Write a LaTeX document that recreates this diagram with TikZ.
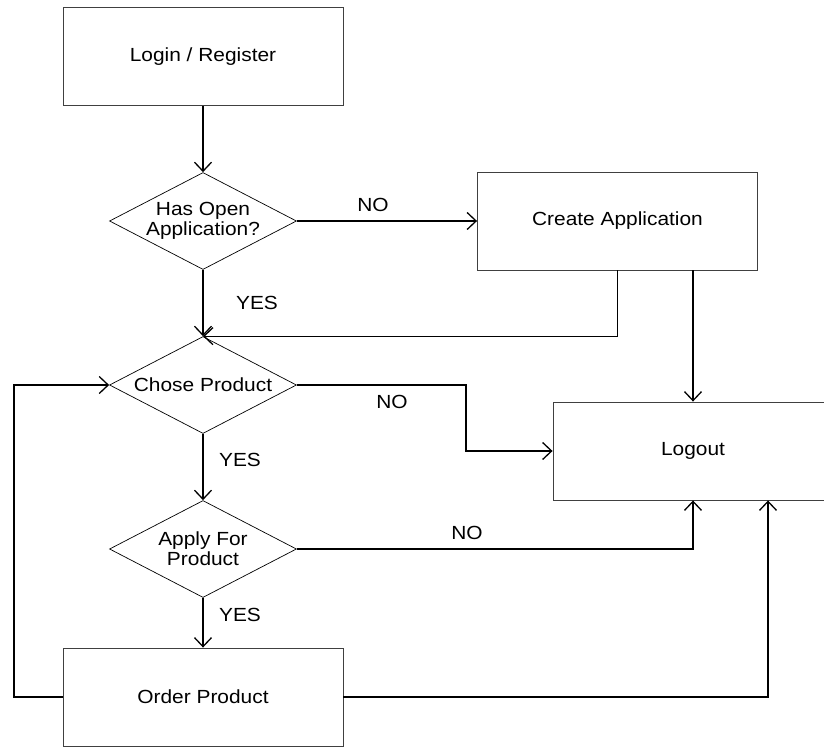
\documentclass[tikz,border=0pt]{standalone}
\usepackage{fontspec}
\setmainfont{Liberation Sans}
\usetikzlibrary{shapes.geometric,arrows.meta}
\newcommand\sx[1]{\scalebox{1.1}[1]{#1}}
\begin{document}
\begin{tikzpicture}[x=1pt,y=-1pt,
  every node/.style={font=\fontsize{19}{20}\selectfont},
  boxnode/.style={draw=black!75,line width=0.9pt,rectangle,minimum width=280pt,minimum height=98pt,inner sep=0pt},
  decision/.style={draw=black,line width=0.7pt,diamond,minimum width=187pt,minimum height=97pt,inner sep=0pt},
  arr/.style={line width=1.3pt,-{Straight Barb[length=9pt,width=17pt,line width=1.3pt]}},
  lbl/.style={inner sep=0pt}]
\clip (0,0) rectangle (824,747);
\fill[white] (0,0) rectangle (824,747);

\node[boxnode] (login) at (203,56.5) {\sx{Login / Register}};
\node[decision,label={[align=center]center:\sx{Has Open}\\\sx{Application?}}] (d1) at (203,221) {};
\node[boxnode] (create) at (617.5,221) {\sx{Create Application}};
\node[decision,label={center:\sx{Chose Product}}] (d2) at (203,385) {};
\node[boxnode] (logout) at (693,451) {\sx{Logout}};
\node[decision,label={[align=center]center:\sx{Apply For}\\\sx{Product}}] (d3) at (203,549) {};
\node[boxnode] (order) at (203,697) {\sx{Order Product}};

\coordinate (k1) at (466,385);
\coordinate (k2) at (14,697);

\draw[arr] (login.south) -- (d1.north);
\draw[arr] (d1.east) -- (create.west);
\draw[arr] (d1.south) -- (d2.north);
\draw[arr] (create.south) |- (d2.north);
\draw[arr] (create.south -| logout.north) -- (logout.north);
\draw[arr] (d2.east) -- (k1) |- (logout.west);
\draw[arr] (d2.south) -- (d3.north);
\draw[arr] (d3.east) -| (logout.south);
\draw[arr] (d3.south) -- (order.north);
\draw[arr] (order.east) -| ([xshift=75pt]logout.south);
\draw[arr] (order.west) -- (k2) |- (d2.west);

\node[lbl] (no1) at (373,205) {\sx{NO}};
\node[lbl] (yes1) at (257,303) {\sx{YES}};
\node[lbl] (no2) at (392,402) {\sx{NO}};
\node[lbl] (yes2) at (240,460) {\sx{YES}};
\node[lbl] (no3) at (467,533) {\sx{NO}};
\node[lbl] (yes3) at (240,615) {\sx{YES}};
\end{tikzpicture}
\end{document}
